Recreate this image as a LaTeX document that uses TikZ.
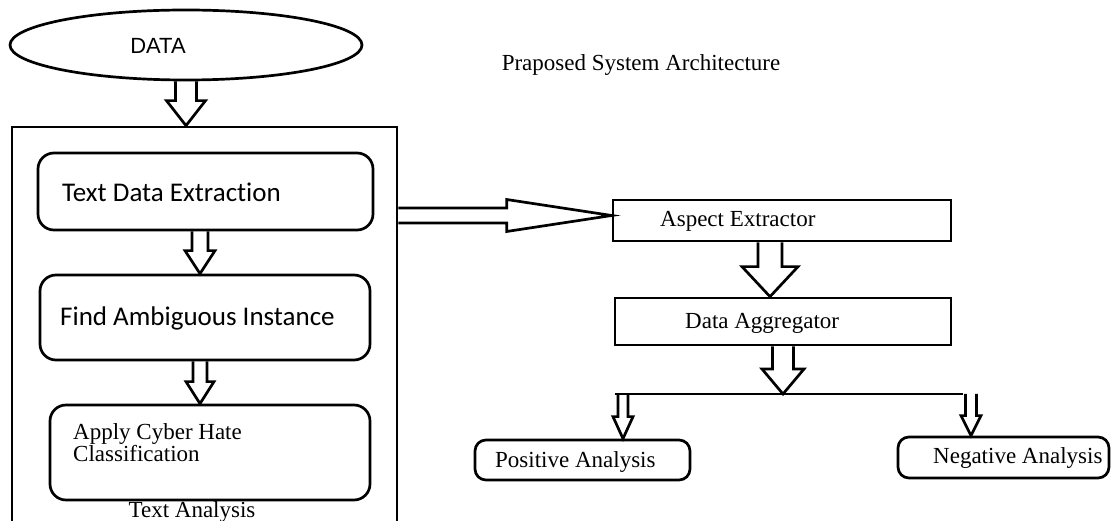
\documentclass[tikz,border=0pt]{standalone}
\usepackage{fontspec}
\setmainfont{Liberation Serif}
\newfontfamily\calfont[Ligatures={NoCommon}]{Carlito}
\newfontfamily\arfont{Liberation Sans}
\usetikzlibrary{shapes.geometric,calc}
\tikzset{
  ln/.style={line width=2.7pt},
  blk/.style={line width=2.7pt, line join=miter},
  box/.style={draw, line width=2.7pt, rectangle, inner sep=0pt},
  rbox/.style={box, rounded corners=16pt},
  pbox/.style={box, rounded corners=11pt},
  sertxt/.style={inner sep=0pt, font=\fontsize{23}{19}\selectfont},
  caltxt/.style={inner sep=0pt, font=\calfont\fontsize{27}{30}\selectfont},
}
\newcommand\blkdown[5]{\draw[blk] ($(#2 |- #1)+(-#3,0)$) -- ($(#2)+(-#3,-#5)$) -- ($(#2)+(-#4,-#5)$) -- (#2) -- ($(#2)+(#4,-#5)$) -- ($(#2)+(#3,-#5)$) -- ($(#2 |- #1)+(#3,0)$);}
\newcommand\blkright[5]{\draw[blk] ($(#2 -| #1)+(0,-#3)$) -- ($(#2)+(-#5,-#3)$) -- ($(#2)+(-#5,-#4)$) -- (#2) -- ($(#2)+(-#5,#4)$) -- ($(#2)+(-#5,#3)$) -- ($(#2 -| #1)+(0,#3)$);}
\begin{document}
\begin{tikzpicture}[x=1pt,y=-1pt]
\clip (0,0) rectangle (1112,521);
\fill[white] (0,0) rectangle (1112,521);
% left column
\node[draw, ellipse, line width=2.7pt, minimum width=352pt, minimum height=70pt, inner sep=0pt] (data) at (186,45) {};
\node[inner sep=0pt, font=\arfont\fontsize{22}{26}\selectfont] (datat) at (158,46) {DATA};
\node[box, minimum width=385pt, minimum height=420pt] (outer) at (204.5,337) {};
\node[rbox, minimum width=335pt, minimum height=77pt] (tde) at (205.5,191.5) {};
\node[caltxt, anchor=west] (tdet) at (62,192) {Text Data Extraction};
\node[rbox, minimum width=330pt, minimum height=85pt] (fai) at (205,317.5) {};
\node[caltxt, anchor=west] (fait) at (60,318) {Find Ambiguous Instance};
\node[rbox, minimum width=320pt, minimum height=95pt] (ach) at (210,452.5) {};
\node[sertxt, anchor=north west, align=left] (acht) at (73,423) {Apply Cyber Hate\\Classification};
\node[sertxt] (tat) at (192,512) {Text Analysis};
% title
\node[sertxt] (title) at (641,65) {Praposed System Architecture};
% right column
\node[box, minimum width=338pt, minimum height=41pt] (asp) at (782,220.5) {};
\node[sertxt, anchor=west] (aspt) at (660,221) {Aspect Extractor};
\node[box, minimum width=336pt, minimum height=47pt] (agg) at (783,321.5) {};
\node[sertxt, anchor=west] (aggt) at (685,323) {Data Aggregator};
\node[pbox, minimum width=215pt, minimum height=40pt] (pos) at (582.5,460) {};
\node[sertxt, anchor=west] (post) at (495,462) {Positive Analysis};
\node[pbox, minimum width=211pt, minimum height=41pt] (neg) at (1003.5,457.5) {};
\node[sertxt, anchor=west] (negt) at (933,458) {Negative Analysis};
% coordinates
\coordinate (spl) at (615,394);
\coordinate (spr) at (963,394);
\coordinate (pl) at (623,394);
\coordinate (pr) at (971,394);
\coordinate (t1) at (data.south |- outer.north);
\coordinate (t2) at ($(fai.north)+(-5,0)$);
\coordinate (t3) at ($(ach.north)+(-10,0)$);
\coordinate (t4) at ($(asp.west)+(0,-5)$);
\coordinate (t5) at ($(agg.north)+(-13,0)$);
\coordinate (t6) at (agg.south |- spl);
\coordinate (t7) at (pl |- pos.north);
\coordinate (t8) at (pr |- neg.north);
% connectors
\blkdown{data.south}{t1}{10.5}{19.5}{25}
\blkdown{tde.south}{t2}{8}{15}{23}
\blkdown{fai.south}{t3}{7}{14}{22}
\blkright{outer.east}{t4}{7.5}{16}{105}
\blkdown{asp.south}{t5}{12}{28}{30}
\blkdown{agg.south}{t6}{10.5}{21}{25}
\draw[ln] (spl) -- (spr);
\blkdown{pl}{t7}{5}{10}{22}
\blkdown{pr}{t8}{5.5}{10}{20}
\end{tikzpicture}
\end{document}
